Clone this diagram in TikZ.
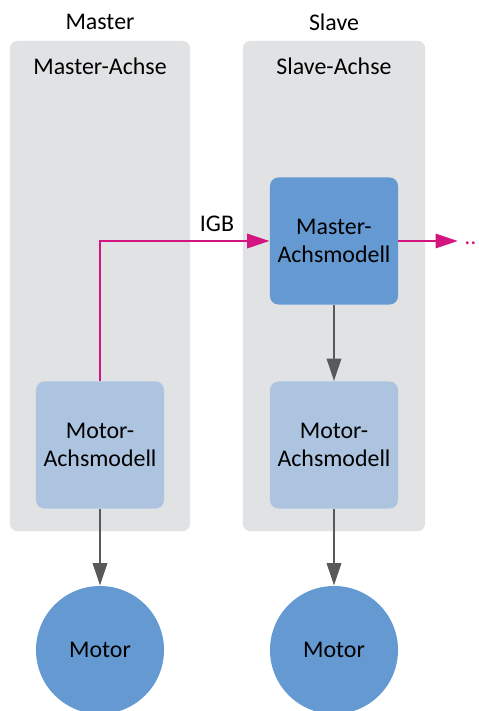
\documentclass[tikz,border=0pt]{standalone}
\usepackage{fontspec}
\setmainfont{Carlito}
\usetikzlibrary{arrows.meta,positioning}

\definecolor{panelgray}{HTML}{E1E2E4}
\definecolor{modelblue}{HTML}{6499D2}
\definecolor{motorblue}{HTML}{ADC4E1}
\definecolor{igbpink}{HTML}{D4157F}
\definecolor{flowgray}{HTML}{58595B}

\tikzset{
  panel/.style={fill=panelgray, rounded corners=5pt, minimum height=12.25cm},
  modelbox/.style={rounded corners=6pt, minimum width=3.2cm, minimum height=3.175cm,
    align=center, font=\fontsize{17}{20}\selectfont},
  motor/.style={circle, fill=modelblue, minimum size=3.2cm, font=\fontsize{17}{20}\selectfont},
  label/.style={font=\fontsize{17}{20}\selectfont},
  flow/.style={draw=flowgray, line width=2pt, -{Triangle[length=16pt,width=10pt]}},
  igb/.style={draw=igbpink, line width=2pt, -{Triangle[length=16pt,width=10pt]}}
}

\begin{document}
\begin{tikzpicture}[x=0.025cm, y=-0.025cm]

\useasboundingbox (0,0) rectangle (479,711);

%panels
\node[panel, minimum width=4.5cm] (masterpanel) at (100,286) {};
\node[panel, minimum width=4.55cm] (slavepanel) at (334,286) {};

%titles
\node[label] (mastertitle) at (100,22) {Master};
\node[label] (slavetitle) at (334,22) {Slave};
\node[label] (masterachse) at (100,66) {Master-Achse};
\node[label] (slaveachse) at (334,66) {Slave-Achse};

%model boxes
\node[modelbox, fill=motorblue] (mastermotormodel) at (100,445) {Motor-\\Achsmodell};
\node[modelbox, fill=modelblue] (slavemastermodel) at (334,241) {Master-\\Achsmodell};
\node[modelbox, fill=motorblue] (slavemotormodel) at (334,445) {Motor-\\Achsmodell};

%motors
\node[motor] (mastermotor) at (100,650) {Motor};
\node[motor] (slavemotor) at (334,650) {Motor};

%IGB link
\draw[igb] (mastermotormodel.north) |- (slavemastermodel.west);
\node[label] (igblabel) at (217,224) {IGB};
\coordinate (igbend) at (458,241);
\draw[igb] (slavemastermodel.east) -- (igbend);
\node[label, text=igbpink, anchor=base west, inner sep=0pt] (igbmore) at (464,244) {..};

%arrows
\draw[flow] (mastermotormodel) -- (mastermotor);
\draw[flow] (slavemastermodel) -- (slavemotormodel);
\draw[flow] (slavemotormodel) -- (slavemotor);

\end{tikzpicture}
\end{document}
